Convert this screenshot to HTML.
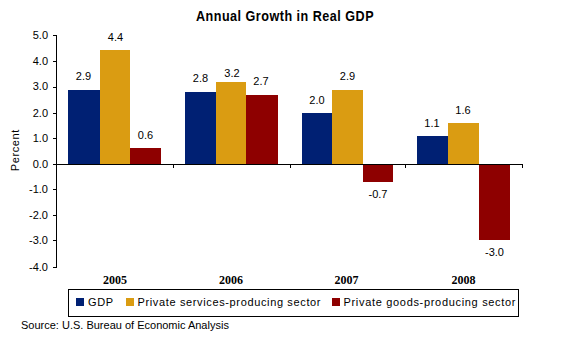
<!DOCTYPE html>
<html><head><meta charset="utf-8">
<style>
html,body{margin:0;padding:0;background:#fff;width:564px;height:343px;overflow:hidden}
svg{display:block}
text{font-family:"Liberation Sans",sans-serif;font-size:11px;fill:#000}
.t{font-weight:bold;font-size:14px}
.c{font-family:"Liberation Serif",serif;font-weight:bold;font-size:12px}
</style></head><body>
<svg width="564" height="343" viewBox="0 0 564 343">
<rect x="0" y="0" width="564" height="343" fill="#fff"/>
<text class="t" transform="translate(196,21) scale(0.9,1)" x="0" y="0" letter-spacing="0.55">Annual Growth in Real GDP</text>
<g shape-rendering="crispEdges">
<!-- 2005 -->
<rect x="68" y="90" width="32" height="74" fill="#002073"/>
<rect x="100" y="50" width="30" height="114" fill="#DA9C12"/>
<rect x="130" y="148" width="31" height="16" fill="#8E0000"/>
<!-- 2006 -->
<rect x="185" y="92" width="31" height="72" fill="#002073"/>
<rect x="216" y="82" width="30" height="82" fill="#DA9C12"/>
<rect x="246" y="95" width="32" height="69" fill="#8E0000"/>
<!-- 2007 -->
<rect x="302" y="113" width="30" height="51" fill="#002073"/>
<rect x="332" y="90" width="31" height="74" fill="#DA9C12"/>
<rect x="363" y="164" width="30" height="18" fill="#8E0000"/>
<!-- 2008 -->
<rect x="417" y="136" width="31" height="28" fill="#002073"/>
<rect x="448" y="123" width="31" height="41" fill="#DA9C12"/>
<rect x="479" y="164" width="31" height="76" fill="#8E0000"/>
<!-- axes -->
<rect x="56" y="35" width="1" height="233" fill="#000"/>
<rect x="56" y="164" width="467" height="1" fill="#000"/>
<rect x="53" y="35" width="3" height="1" fill="#000"/>
<rect x="53" y="61" width="3" height="1" fill="#000"/>
<rect x="53" y="87" width="3" height="1" fill="#000"/>
<rect x="53" y="113" width="3" height="1" fill="#000"/>
<rect x="53" y="138" width="3" height="1" fill="#000"/>
<rect x="53" y="164" width="3" height="1" fill="#000"/>
<rect x="53" y="189" width="3" height="1" fill="#000"/>
<rect x="53" y="215" width="3" height="1" fill="#000"/>
<rect x="53" y="240" width="3" height="1" fill="#000"/>
<rect x="53" y="267" width="3" height="1" fill="#000"/>
<rect x="173" y="165" width="1" height="3" fill="#000"/>
<rect x="290" y="165" width="1" height="3" fill="#000"/>
<rect x="405" y="165" width="1" height="3" fill="#000"/>
<rect x="522" y="165" width="1" height="3" fill="#000"/>
<!-- legend -->
<rect x="68.5" y="289.5" width="450" height="27" fill="none" stroke="#000" stroke-width="1"/>
<rect x="76" y="298" width="8" height="8" fill="#002073"/>
<rect x="126" y="298" width="8" height="8" fill="#DA9C12"/>
<rect x="332" y="298" width="8" height="8" fill="#8E0000"/>
</g>
<!-- y labels -->
<g text-anchor="end">
<text x="48" y="39">5.0</text>
<text x="48" y="65">4.0</text>
<text x="48" y="90">3.0</text>
<text x="48" y="117">2.0</text>
<text x="48" y="142">1.0</text>
<text x="48" y="168">0.0</text>
<text x="48" y="193">-1.0</text>
<text x="48" y="219">-2.0</text>
<text x="48" y="244">-3.0</text>
<text x="48" y="271">-4.0</text>
</g>
<text x="0" y="0" text-anchor="middle" font-size="13" textLength="41.5" lengthAdjust="spacing" transform="translate(19.3,150.5) rotate(-90)">Percent</text>
<!-- data labels -->
<g text-anchor="middle">
<text x="83.5" y="80">2.9</text>
<text x="115.5" y="41">4.4</text>
<text x="145.5" y="139">0.6</text>
<text x="200.5" y="82">2.8</text>
<text x="232" y="77">3.2</text>
<text x="261" y="85">2.7</text>
<text x="317" y="104">2.0</text>
<text x="347.5" y="80">2.9</text>
<text x="378" y="198">-0.7</text>
<text x="432" y="127">1.1</text>
<text x="463" y="114">1.6</text>
<text x="494.5" y="256">-3.0</text>
</g>
<g text-anchor="middle">
<text class="c" x="115" y="284">2005</text>
<text class="c" x="231" y="284">2006</text>
<text class="c" x="346.5" y="284">2007</text>
<text class="c" x="463.5" y="284">2008</text>
</g>
<text x="88" y="306" textLength="25" lengthAdjust="spacing">GDP</text>
<text x="137.5" y="306" textLength="183" lengthAdjust="spacing">Private services-producing sector</text>
<text x="343.5" y="306" textLength="172" lengthAdjust="spacing">Private goods-producing sector</text>
<text x="21" y="329">Source: U.S. Bureau of Economic Analysis</text>
</svg>
</body></html>
